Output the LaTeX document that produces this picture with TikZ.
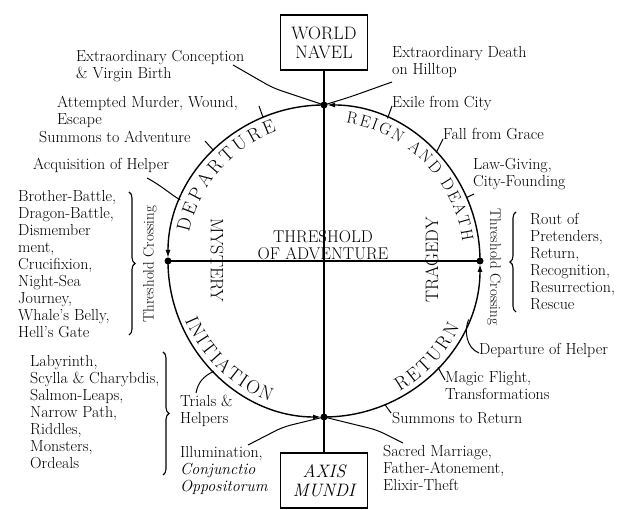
\documentclass[tikz,border=0pt]{standalone}
\usepackage{fontspec}
\usetikzlibrary{calc,arrows.meta,decorations.text,decorations.pathreplacing}
\newcommand{\lns}[1]{\begin{tabular}[t]{@{}l@{}}#1\end{tabular}}
\newcommand{\clns}[1]{\begin{tabular}[t]{@{}c@{}}#1\end{tabular}}
\newcommand{\arcfont}{\fontsize{19}{19}\selectfont}
\newcommand{\arcfontb}{\fontsize{16.5}{17}\selectfont}
\begin{document}
\begin{tikzpicture}[x=1pt,y=1pt,
  lbl/.style={font=\fontsize{16}{17}\selectfont, inner sep=0pt, anchor=base west},
  rotlbl/.style={font=\fontsize{15}{16}\selectfont, inner sep=0pt},
  capsl/.style={font=\fontsize{18}{18}\selectfont, inner sep=0pt},
  dot/.style={circle, fill=black, inner sep=0pt, minimum size=7pt},
  boxn/.style={draw, line width=1.6pt, minimum width=87pt, minimum height=55pt, align=center, inner sep=0pt},
  mainline/.style={line width=1.4pt},
  thinline/.style={line width=1pt},
  arr/.style={-{Latex[length=8pt,width=5pt]}, shorten >=3pt},
  bracel/.style={decorate, decoration={brace, amplitude=6pt}, line width=1.1pt}
]
\useasboundingbox (0,0) rectangle (640,510);
\coordinate (C) at (324,249);

% boxes and axes
\node[boxn, font=\fontsize{18}{19}\selectfont] (wn) at (324,467.5) {WORLD\\NAVEL};
\node[boxn, font=\fontsize{18}{19}\selectfont\itshape] (am) at (324,29.5) {AXIS\\MUNDI};
\node[dot] (T) at ($(C)+(90:156)$) {};
\node[dot] (L) at ($(C)+(180:156)$) {};
\node[dot] (B) at ($(C)+(270:156)$) {};
\node[dot] (Rt) at ($(C)+(0:156)$) {};
\draw[mainline] (wn.south) -- (am.north);
\draw[mainline] (L.center) -- (Rt.center);

% circle quarters with arrows
\draw[mainline, arr] (T.center) arc[start angle=90, end angle=180, radius=156];
\draw[mainline, arr] (L.center) arc[start angle=180, end angle=270, radius=156];
\draw[mainline, arr] (B.center) arc[start angle=270, end angle=360, radius=156];
\draw[mainline, arr] (Rt.center) arc[start angle=0, end angle=90, radius=156];

% arc labels
\path[decorate, decoration={text along path, text={|\arcfont|DEPARTURE}, text align={fit to path}}]
  ($(C)+(168:138)$) arc[start angle=168, end angle=110, radius=138];
\path[decorate, decoration={text along path, text={|\arcfontb|REIGN AND DEATH}, text align={fit to path}}]
  ($(C)+(81:140)$) arc[start angle=81, end angle=8, radius=140];
\path[decorate, decoration={text along path, text={|\arcfont|INITIATION}, text align={fit to path}}]
  ($(C)+(203:151)$) arc[start angle=203, end angle=249, radius=151];
\path[decorate, decoration={text along path, text={|\arcfont|RETURN}, text align={fit to path}}]
  ($(C)+(300:151)$) arc[start angle=300, end angle=334, radius=151];

% inner labels
\node[capsl, rotate=-90] (mys) at (217,250) {\addfontfeature{LetterSpace=12}MYSTERY};
\node[capsl, rotate=90] (tra) at (432,250) {\addfontfeature{LetterSpace=16}TRAGEDY};
\node[inner sep=0pt, anchor=base, font=\fontsize{17}{16}\selectfont] (thr) at (323,267) {\clns{THRESHOLD\\OF ADVENTURE}};
\node[rotlbl, rotate=90] (tcl) at (150,246) {Threshold Crossing};
\node[rotlbl, rotate=-90] (tcr) at (494,243) {Threshold Crossing};

% outer labels, upper left
\node[lbl] (exc) at (76,448) {\lns{Extraordinary Conception\\\& Virgin Birth}};
\node[lbl] (att) at (57,402) {\lns{Attempted Murder, Wound,\\Escape}};
\node[lbl] (sad) at (39,367) {Summons to Adventure};
\node[lbl] (acq) at (33,340) {Acquisition of Helper};
\node[lbl] (bro) at (18,308) {\lns{Brother-Battle,\\Dragon-Battle,\\Dismember\\ment,\\Crucifixion,\\Night-Sea\\Journey,\\Whale’s Belly,\\Hell’s Gate}};
% upper right
\node[lbl] (exd) at (392,452) {\lns{Extraordinary Death\\on Hilltop}};
\node[lbl] (exi) at (392,402) {Exile from City};
\node[lbl] (fal) at (443,370) {Fall from Grace};
\node[lbl] (law) at (473,340) {\lns{Law-Giving,\\City-Founding}};
\node[lbl] (rout) at (530,285) {\lns{Rout of\\Pretenders,\\Return,\\Recognition,\\Resurrection,\\Rescue}};
% lower left
\node[lbl] (lab) at (30,143) {\lns{Labyrinth,\\Scylla \& Charybdis,\\Salmon-Leaps,\\Narrow Path,\\Riddles,\\Monsters,\\Ordeals}};
\node[lbl] (tri) at (180,103) {\lns{Trials \&\\Helpers}};
\node[lbl] (ill) at (180,52) {\lns{Illumination,\\\textit{Conjunctio}\\\textit{Oppositorum}}};
% lower right
\node[lbl] (doh) at (479,155) {Departure of Helper};
\node[lbl] (mag) at (445,127) {\lns{Magic Flight,\\Transformations}};
\node[lbl] (sre) at (392,86) {Summons to Return};
\node[lbl] (sac) at (383,53) {\lns{Sacred Marriage,\\Father-Atonement,\\Elixir-Theft}};

% braces
\draw[bracel] (129,318) -- (129,175);
\draw[bracel] (516,198) -- (516,298);
\draw[bracel] (163,158) -- (163,35);

% connector points
\coordinate (excS) at (233,445);
\coordinate (excB) at (273,422);
\coordinate (exdS) at (392,428);
\coordinate (exdB) at (350,413);
\coordinate (illS) at (248,65);
\coordinate (illB) at (283,83);
\coordinate (sacS) at (403,67);
\coordinate (sacB) at (377,80);
\coordinate (attS) at (259,404);
\coordinate (attE) at ($(C)+(113:156)$);
\coordinate (sadS) at (205,369);
\coordinate (sadE) at ($(C)+(135:156)$);
\coordinate (acqS) at (147,332);
\coordinate (acqE) at ($(C)+(157:156)$);
\coordinate (exiS) at (392,404);
\coordinate (exiE) at ($(C)+(66:156)$);
\coordinate (falS) at (443,371);
\coordinate (falE) at ($(C)+(44:156)$);
\coordinate (lawS) at (474,316);
\coordinate (lawE) at ($(C)+(24:156)$);
\coordinate (magS) at (445,130);
\coordinate (magE) at ($(C)+(-43:156)$);
\coordinate (sreS) at (391,97);
\coordinate (sreE) at ($(C)+(-67:156)$);
\coordinate (triS) at (196,117);
\coordinate (triE) at ($(C)+(225:156)$);
\coordinate (dohS) at (479,157);
\coordinate (dohE) at ($(C)+(-22:156)$);

\draw[thinline, rounded corners=8pt] (excS) -- (excB) -- (T.center);
\draw[thinline, rounded corners=8pt] (exdS) -- (exdB) -- (T.center);
\draw[thinline, rounded corners=8pt] (illS) -- (illB) -- (B.center);
\draw[thinline, rounded corners=8pt] (sacS) -- (sacB) -- (B.center);
\draw[thinline] (attS) -- (attE);
\draw[thinline] (sadS) -- (sadE);
\draw[thinline] (acqS) .. controls (162,324) and (170,316) .. (acqE);
\draw[thinline] (exiS) -- (exiE);
\draw[thinline] (falS) -- (falE);
\draw[thinline] (lawS) -- (lawE);
\draw[thinline] (magS) -- (magE);
\draw[thinline] (sreS) -- (sreE);
\draw[thinline] (triS) .. controls (198,128) and (204,134) .. (triE);
\draw[thinline] (dohS) .. controls (466,162) and (464,180) .. (dohE);
\end{tikzpicture}
\end{document}
